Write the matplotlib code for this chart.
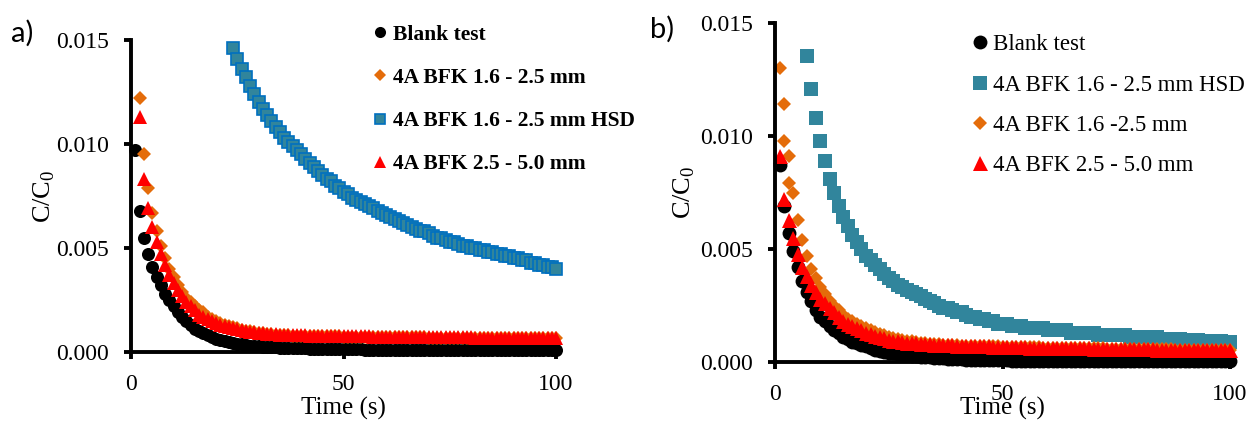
import matplotlib
matplotlib.use("Agg")
import matplotlib.pyplot as plt

plt.rcParams["font.family"] = ["Liberation Serif", "DejaVu Serif"]
plt.rcParams["mathtext.fontset"] = "custom"
plt.rcParams["mathtext.rm"] = "Liberation Serif"

# ---- panel a) data (time in s, C/C0) ----
t_blank_a = list(range(1, 101))
blank_a = [
    0.0097, 0.0068, 0.0055, 0.0047, 0.0041, 0.0036, 0.0032, 0.0028, 0.0025, 0.0022,
    0.0019, 0.0017, 0.0015, 0.0013, 0.0011, 0.0010, 0.0009, 0.0008, 0.0007, 0.00063,
    0.00057, 0.00052, 0.00047, 0.00043, 0.00040, 0.00037, 0.00034, 0.00031, 0.00029, 0.00027,
    0.00025, 0.00024, 0.00023, 0.00022, 0.00021, 0.00020, 0.00019, 0.00018, 0.00018, 0.00017,
    0.00017, 0.00016, 0.00016, 0.00015, 0.00015, 0.00015, 0.00014, 0.00014, 0.00014, 0.00013,
    0.00013, 0.00013, 0.00013, 0.00013, 0.00012, 0.00012, 0.00012, 0.00012, 0.00012, 0.00012,
    0.00011, 0.00011, 0.00011, 0.00011, 0.00011, 0.00011, 0.00011, 0.00011, 0.00010, 0.00010,
    0.00010, 0.00010, 0.00010, 0.00010, 0.00010, 0.00010, 0.00010, 0.00010, 0.00010, 0.00010,
    0.00010, 0.00010, 0.00009, 0.00009, 0.00009, 0.00009, 0.00009, 0.00009, 0.00009, 0.00009,
    0.00009, 0.00009, 0.00009, 0.00009, 0.00009, 0.00008, 0.00008, 0.00008, 0.00008, 0.00008,
]

t_orange_a = list(range(2, 101))
orange_a = [
    0.0122, 0.0095, 0.0079, 0.0067, 0.0058, 0.0051, 0.0045, 0.0040, 0.0036, 0.0032,
    0.0029, 0.0026, 0.0024, 0.0022, 0.0020, 0.0019, 0.0017, 0.0016, 0.0015, 0.0014,
    0.00132, 0.00125, 0.00119, 0.00113, 0.00108, 0.00103, 0.00099, 0.00095, 0.00092, 0.00089,
    0.00087, 0.00085, 0.00084, 0.00082, 0.00081, 0.00080, 0.00079, 0.00079, 0.00078, 0.00078,
    0.00077, 0.00077, 0.00076, 0.00076, 0.00076, 0.00075, 0.00075, 0.00075, 0.00074, 0.00074,
    0.00074, 0.00073, 0.00073, 0.00073, 0.00073, 0.00072, 0.00072, 0.00072, 0.00072, 0.00071,
    0.00071, 0.00071, 0.00071, 0.00070, 0.00070, 0.00070, 0.00070, 0.00070, 0.00069, 0.00069,
    0.00069, 0.00069, 0.00069, 0.00068, 0.00068, 0.00068, 0.00068, 0.00068, 0.00068, 0.00067,
    0.00067, 0.00067, 0.00067, 0.00067, 0.00067, 0.00066, 0.00066, 0.00066, 0.00066, 0.00066,
    0.00066, 0.00066, 0.00065, 0.00065, 0.00065, 0.00065, 0.00065, 0.00065, 0.00065,
]

t_hsd_a = list(range(24, 101))
hsd_a = [
    0.0146, 0.0141, 0.0136, 0.0132, 0.0128, 0.0124, 0.0120, 0.0117, 0.0114, 0.0111,
    0.0108, 0.0106, 0.0103, 0.0101, 0.0099, 0.0097, 0.0095, 0.0093, 0.0091, 0.0089,
    0.0087, 0.0085, 0.0083, 0.0082, 0.0080, 0.0079, 0.0077, 0.0076, 0.0074, 0.0073,
    0.0072, 0.0071, 0.0070, 0.0069, 0.0068, 0.0067, 0.0066, 0.0065, 0.0064, 0.0063,
    0.0062, 0.0061, 0.0060, 0.0059, 0.0058, 0.0058, 0.0057, 0.0056, 0.0055, 0.0055,
    0.0054, 0.0053, 0.0053, 0.0052, 0.0051, 0.0051, 0.0050, 0.0050, 0.0049, 0.0049,
    0.0048, 0.0048, 0.0047, 0.0047, 0.0046, 0.0046, 0.0045, 0.0045, 0.0044, 0.0044,
    0.0043, 0.0043, 0.0042, 0.0042, 0.0041, 0.0041, 0.0040,
]

t_red_a = list(range(2, 101))
red_a = [
    0.0113, 0.0083, 0.0069, 0.0060, 0.0053, 0.0047, 0.0042, 0.0037, 0.0033, 0.0030,
    0.0027, 0.0024, 0.0022, 0.0020, 0.0018, 0.0017, 0.0016, 0.0015, 0.0014, 0.0013,
    0.00125, 0.00119, 0.00114, 0.00109, 0.00105, 0.00101, 0.00098, 0.00095, 0.00092, 0.00090,
    0.00088, 0.00086, 0.00085, 0.00084, 0.00083, 0.00082, 0.00081, 0.00081, 0.00080, 0.00080,
    0.00079, 0.00079, 0.00078, 0.00078, 0.00078, 0.00077, 0.00077, 0.00077, 0.00076, 0.00076,
    0.00076, 0.00075, 0.00075, 0.00075, 0.00075, 0.00074, 0.00074, 0.00074, 0.00074, 0.00073,
    0.00073, 0.00073, 0.00073, 0.00072, 0.00072, 0.00072, 0.00072, 0.00072, 0.00071, 0.00071,
    0.00071, 0.00071, 0.00071, 0.00070, 0.00070, 0.00070, 0.00070, 0.00070, 0.00070, 0.00069,
    0.00069, 0.00069, 0.00069, 0.00069, 0.00069, 0.00068, 0.00068, 0.00068, 0.00068, 0.00068,
    0.00068, 0.00068, 0.00067, 0.00067, 0.00067, 0.00067, 0.00067, 0.00067, 0.00067,
]

# ---- panel b) data ----
t_blank_b = list(range(1, 101))
blank_b = [
    0.0087, 0.0069, 0.0057, 0.0049, 0.0042, 0.0036, 0.0031, 0.0027, 0.0023, 0.0020,
    0.0018, 0.0016, 0.0014, 0.0013, 0.0011, 0.0010, 0.00090, 0.00082, 0.00075, 0.00069,
    0.00060, 0.00055, 0.00050, 0.00046, 0.00042, 0.00039, 0.00036, 0.00033, 0.00030, 0.00028,
    0.00026, 0.00024, 0.00022, 0.00020, 0.00019, 0.00017, 0.00016, 0.00015, 0.00014, 0.00013,
    0.00012, 0.00011, 0.00010, 0.00010, 0.00009, 0.00009, 0.00008, 0.00008, 0.00007, 0.00007,
    0.00007, 0.00006, 0.00006, 0.00006, 0.00006, 0.00006, 0.00005, 0.00005, 0.00005, 0.00005,
    0.00005, 0.00005, 0.00005, 0.00005, 0.00005, 0.00005, 0.00005, 0.00005, 0.00005, 0.00005,
    0.00004, 0.00004, 0.00004, 0.00004, 0.00004, 0.00004, 0.00004, 0.00004, 0.00004, 0.00004,
    0.00004, 0.00004, 0.00004, 0.00004, 0.00004, 0.00003, 0.00003, 0.00003, 0.00003, 0.00003,
    0.00003, 0.00003, 0.00003, 0.00003, 0.00003, 0.00003, 0.00003, 0.00003, 0.00003, 0.00003,
]

t_hsd_b = list(range(7, 101))
hsd_b = [
    0.01355, 0.0121, 0.0108, 0.0098, 0.0089, 0.0081, 0.0075, 0.0069, 0.0064, 0.0060,
    0.0056, 0.0053, 0.0050, 0.0047, 0.0045, 0.0043, 0.0041, 0.0039, 0.0037, 0.0036,
    0.0034, 0.0033, 0.0032, 0.0031, 0.0030, 0.0029, 0.0028, 0.0027, 0.0026, 0.0025,
    0.0024, 0.0024, 0.0023, 0.0022, 0.0022, 0.0021, 0.0020, 0.0020, 0.0019, 0.0019,
    0.0018, 0.0018, 0.0017, 0.0017, 0.0017, 0.0016, 0.0016, 0.0016, 0.0015, 0.0015,
    0.0015, 0.0015, 0.0015, 0.0014, 0.0014, 0.0014, 0.0014, 0.0014, 0.0013, 0.0013,
    0.0013, 0.0013, 0.0013, 0.0013, 0.0012, 0.0012, 0.0012, 0.0012, 0.0012, 0.0012,
    0.0012, 0.0011, 0.0011, 0.0011, 0.0011, 0.0011, 0.0011, 0.0011, 0.0010, 0.0010,
    0.0010, 0.0010, 0.0010, 0.00099, 0.00098, 0.00097, 0.00096, 0.00095, 0.00094, 0.00093,
    0.00092, 0.00091, 0.00090, 0.00089,
]

t_orange_b = [1, 2, 2, 3, 3, 4, 5, 6, 7, 8] + list(range(9, 101))
orange_b = [
    0.0130, 0.0114, 0.0098, 0.0091, 0.0079, 0.0075, 0.0063, 0.0054, 0.0047, 0.0041,
    0.0037, 0.0033, 0.0030, 0.0027, 0.0025, 0.0023, 0.0021, 0.0019, 0.0018, 0.0017,
    0.0016, 0.0015, 0.0014, 0.00132, 0.00125, 0.00118, 0.00112, 0.00107, 0.00102, 0.00098,
    0.00094, 0.00091, 0.00088, 0.00085, 0.00083, 0.00081, 0.00079, 0.00078, 0.00077, 0.00076,
    0.00075, 0.00074, 0.00073, 0.00073, 0.00072, 0.00071, 0.00071, 0.00070, 0.00070, 0.00069,
    0.00069, 0.00068, 0.00068, 0.00067, 0.00067, 0.00066, 0.00066, 0.00065, 0.00065, 0.00065,
    0.00064, 0.00064, 0.00063, 0.00063, 0.00063, 0.00062, 0.00062, 0.00062, 0.00061, 0.00061,
    0.00061, 0.00060, 0.00060, 0.00060, 0.00059, 0.00059, 0.00059, 0.00058, 0.00058, 0.00058,
    0.00058, 0.00057, 0.00057, 0.00057, 0.00057, 0.00056, 0.00056, 0.00056, 0.00056, 0.00055,
    0.00055, 0.00055, 0.00055, 0.00055, 0.00054, 0.00054, 0.00054, 0.00054, 0.00054, 0.00053,
    0.00053, 0.00053,
]

t_red_b = list(range(1, 101))
red_b = [
    0.0091, 0.0072, 0.0063, 0.0055, 0.0048, 0.0042, 0.0038, 0.0034, 0.0031, 0.0028,
    0.0026, 0.0024, 0.0022, 0.0020, 0.0018, 0.0017, 0.0016, 0.0015, 0.0014, 0.0013,
    0.00122, 0.00115, 0.00109, 0.00104, 0.00099, 0.00095, 0.00092, 0.00089, 0.00086, 0.00084,
    0.00082, 0.00080, 0.00079, 0.00078, 0.00077, 0.00076, 0.00075, 0.00074, 0.00074, 0.00073,
    0.00072, 0.00072, 0.00071, 0.00070, 0.00070, 0.00069, 0.00069, 0.00068, 0.00068, 0.00067,
    0.00067, 0.00066, 0.00066, 0.00065, 0.00065, 0.00064, 0.00064, 0.00064, 0.00063, 0.00063,
    0.00062, 0.00062, 0.00062, 0.00061, 0.00061, 0.00061, 0.00060, 0.00060, 0.00060, 0.00059,
    0.00059, 0.00059, 0.00058, 0.00058, 0.00058, 0.00057, 0.00057, 0.00057, 0.00057, 0.00056,
    0.00056, 0.00056, 0.00056, 0.00055, 0.00055, 0.00055, 0.00055, 0.00054, 0.00054, 0.00054,
    0.00054, 0.00054, 0.00053, 0.00053, 0.00053, 0.00053, 0.00053, 0.00052, 0.00052, 0.00052,
]

x_ticks = [0, 50, 100]
y_ticks = [0.0, 0.005, 0.010, 0.015]

ORANGE = "#E46C0A"
TEAL = "#31859C"
BLUE_EDGE = "#0070C0"
RED = "#FF0000"

W, H = 1249, 421
fig = plt.figure(figsize=(W / 100, H / 100), dpi=100)


def px_axes(left, top, right, bottom):
    return fig.add_axes([left / W, 1 - bottom / H, (right - left) / W, (bottom - top) / H])


def style_axes(ax):
    ax.set_xlim(0, 100)
    ax.set_ylim(0, 0.015)
    ax.set_xticks(x_ticks)
    ax.set_yticks(y_ticks)
    ax.set_yticklabels([f"{v:.3f}" for v in y_ticks])
    for s in ("top", "right"):
        ax.spines[s].set_visible(False)
    for s in ("left", "bottom"):
        ax.spines[s].set_linewidth(2.8)
    ax.tick_params(direction="out", length=5, width=2.8, labelsize=17)
    ax.tick_params(axis="y", pad=11)
    ax.tick_params(axis="x", pad=11)
    ax.set_ylabel(r"C/C$_{\mathregular{0}}$", fontsize=19)
    ax.set_xlabel("Time (s)", fontsize=18)
    ax.xaxis.label.set_va("center")
    ax.yaxis.label.set_va("center")


# ---- a) ----
ax1 = px_axes(131, 40, 556, 352)
ax1.plot(t_blank_a, blank_a, "o", color="black", ms=9.4, mew=0, clip_on=False,
         label="Blank test")
ax1.plot(t_orange_a, orange_a, "D", color=ORANGE, ms=7, mew=0, clip_on=False,
         label="4A BFK 1.6 - 2.5 mm")
ax1.plot(t_hsd_a, hsd_a, "s", color=TEAL, mec=BLUE_EDGE, ms=8.6, mew=1.2, clip_on=False,
         label="4A BFK 1.6 - 2.5 mm HSD")
ax1.plot(t_red_a, red_a, "^", color=RED, ms=10.5, mew=0, clip_on=False,
         label="4A BFK 2.5 - 5.0 mm")
style_axes(ax1)
ax1.yaxis.set_label_coords(-0.203, 0.5)
ax1.xaxis.set_label_coords(0.5, -0.18)
ax1.legend(loc="upper left", bbox_to_anchor=(361 / W, 1 - 14 / H),
           bbox_transform=fig.transFigure, frameon=False, borderpad=0,
           handlelength=0.8, handletextpad=0.2, labelspacing=1.07,
           markerscale=0.85, prop={"weight": "bold", "size": 15.5})
fig.text(11 / W, 1 - 33 / H, "a)", family="Lato", fontsize=21, va="center")

# ---- b) ----
ax2 = px_axes(775, 23, 1230, 362)
ax2.plot(t_blank_b, blank_b, "o", color="black", ms=10, mew=0, clip_on=False,
         label="Blank test")
ax2.plot(t_hsd_b, hsd_b, "s", color=TEAL, ms=10.5, mew=0, clip_on=False,
         label="4A BFK 1.6 - 2.5 mm HSD")
ax2.plot(t_orange_b, orange_b, "D", color=ORANGE, ms=7.2, mew=0, clip_on=False,
         label="4A BFK 1.6 -2.5 mm")
ax2.plot(t_red_b, red_b, "^", color=RED, ms=10.8, mew=0, clip_on=False,
         label="4A BFK 2.5 - 5.0 mm")
style_axes(ax2)
ax2.yaxis.set_label_coords(-0.2, 0.5)
ax2.xaxis.set_label_coords(0.5, -0.136)
ax2.legend(loc="upper left", bbox_to_anchor=(959 / W, 1 - 23 / H),
           bbox_transform=fig.transFigure, frameon=False, borderpad=0,
           handlelength=0.8, handletextpad=0.2, labelspacing=0.84,
           prop={"size": 16.5})
fig.text(650 / W, 1 - 29 / H, "b)", family="Lato", fontsize=21, va="center")

fig.savefig("out.png", dpi=100)
